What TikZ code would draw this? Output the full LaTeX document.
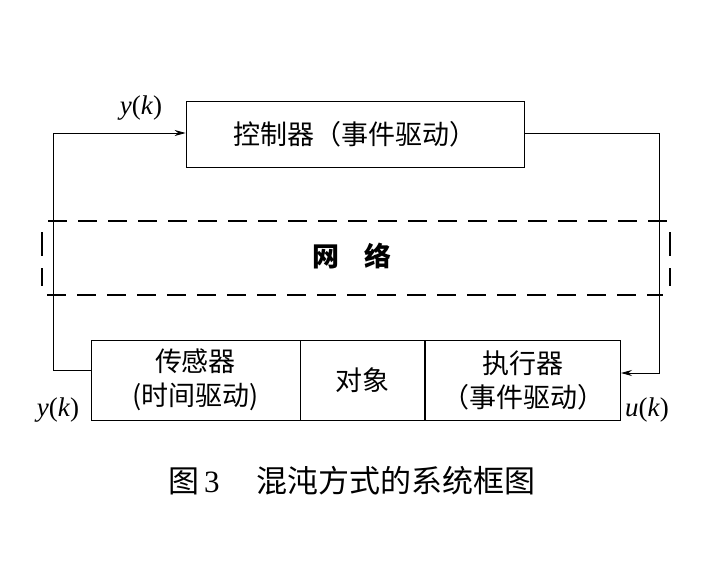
\documentclass[tikz,border=0pt]{standalone}
\usepackage{fontspec}
\usepackage{amsmath}
\setmainfont{Liberation Serif}
\newfontfamily\cjk{Noto Sans CJK SC}
\usetikzlibrary{positioning,arrows.meta}

\tikzset{
  blk/.style={draw, thick, minimum height=80pt, inner sep=0pt, align=center,
    font=\cjk\fontsize{27}{34}\selectfont},
  sig/.style={font=\fontsize{27}{30}\selectfont},
  net/.style={line width=2.6pt, dash pattern=on 19pt off 11pt},
  feed/.style={thick, -{Stealth[length=11pt,width=6pt]}},
}

\begin{document}
\begin{tikzpicture}[x=1pt, y=-1pt]
        \useasboundingbox (0,0) rectangle (716,562);

        % controller
        \node [blk, minimum width=338pt, minimum height=66pt] (ctrl) at (355,134) {控制器（事件驱动）};

        % network
        \node [font=\cjk\bfseries\fontsize{27}{30}\selectfont] (net) at (352,256) {网\hspace{0.9em}络};
        \draw [net] (48,221) -- (670,221);
        \draw [net] (47,295) -- (663,295);
        \draw [net, dash pattern=on 24pt off 12pt] (42,232) -- (42,286);
        \draw [net, dash pattern=on 24pt off 12pt] (670,232) -- (670,286);

        % sensor, plant, actuator
        \node [blk, minimum width=209pt] (sensor) at (195.5,380) {传感器\\(时间驱动)};
        \node [blk, minimum width=124pt, right=0pt of sensor] (plant) {对象};
        \node [blk, minimum width=195pt, right=0pt of plant] (act) {执行器\\（事件驱动）};

        % loops
        \coordinate (lt) at (53,133);
        \coordinate (rt) at (659,133);
        \draw [feed] ([yshift=10pt]sensor.west) -| (lt) -- (ctrl.west |- lt);
        \draw [feed] (ctrl.east |- rt) -- (rt) |- ([yshift=7pt]act.east);

        \node [sig] (y1) at (141,108) {\textit{y}(\textit{k})};
        \node [sig] (y2) at (58,410) {\textit{y}(\textit{k})};
        \node [sig] (u1) at (647,410) {\textit{u}(\textit{k})};

        % caption
        \node [font=\cjk\fontsize{31}{34}\selectfont] (cap) at (352,481) {图\,{\rmfamily 3}\hspace{1.2em}混沌方式的系统框图};
\end{tikzpicture}
\end{document}
